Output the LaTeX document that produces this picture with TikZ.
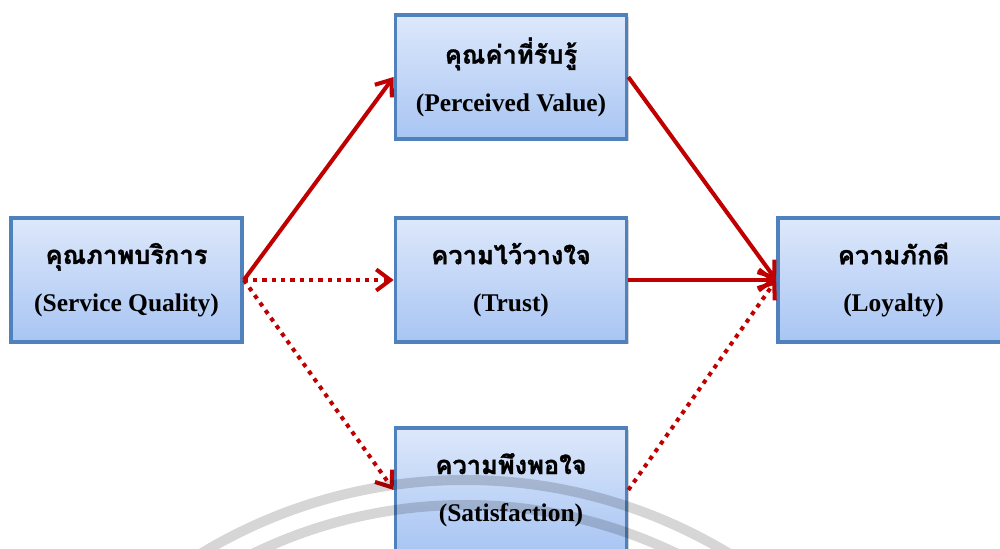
\documentclass[tikz,border=0pt]{standalone}
\usepackage{fontspec}
\setmainfont{Liberation Serif}
\newfontfamily\thaifont[Script=Thai,BoldFeatures={FakeBold=1.2}]{Loma}
\usepackage{tikz}
\usetikzlibrary{arrows.meta,positioning,shadows}
\definecolor{bordeazul}{HTML}{4F81BD}
\definecolor{cajaarriba}{HTML}{DDE8FB}
\definecolor{cajaabajo}{HTML}{A8C5F3}
\definecolor{rojo}{HTML}{C00000}
\begin{document}
\begin{tikzpicture}[node distance=2.0cm, on grid, auto]

    \useasboundingbox (0,0) rectangle (20,-10.98);
    \clip (0,0) rectangle (20,-10.98);

    % Estilos para las cajas y las flechas
    \tikzstyle{caja}=[rectangle, draw=bordeazul, line width=2.1pt, top color=cajaarriba, bottom color=cajaabajo,
        minimum width=4.62cm, minimum height=2.48cm, align=center, inner sep=2pt,
        font=\bfseries\fontsize{14.5}{27}\selectfont, text=black,
        drop shadow={opacity=0.35, shadow xshift=1.2pt, shadow yshift=-1.2pt}]
    \tikzstyle{flecha}=[draw=rojo, line width=2.3pt, -{Straight Barb[length=8pt, width=12pt]}]
    \tikzstyle{punteada}=[flecha, dash pattern=on 2.4pt off 2.9pt]

    % Definición de las cajas (nodos)
    \node[caja] (sq) at (2.53,-5.6) {{\thaifont คุณภาพบริการ}\\(Service Quality)};
    \node[caja] (tr) [right=7.69cm of sq] {{\thaifont ความไว้วางใจ}\\(Trust)};
    \node[caja] (pv) [above=4.06cm of tr] {{\thaifont คุณค่าที่รับรู้}\\(Perceived Value)};
    \node[caja] (sat) [below=4.2cm of tr] {{\thaifont ความพึงพอใจ}\\(Satisfaction)};
    \node[caja] (loy) [right=7.65cm of tr] {{\thaifont ความภักดี}\\(Loyalty)};

    % Definición de las flechas
    \path
        (sq.east) edge[flecha] (pv.west)
        (sq.east) edge[punteada] (tr.west)
        (sq.east) edge[punteada] (sat.west)
        (pv.east) edge[flecha] (loy.west)
        (tr.east) edge[flecha] (loy.west)
        (sat.east) edge[punteada] (loy.west);

    % Marca de agua
    \draw[black, opacity=0.16, line width=0.2cm] (9.3,-19.8) circle (10.2cm);
    \draw[black, opacity=0.16, line width=0.2cm] (9.3,-19.8) circle (9.7cm);
\end{tikzpicture}
\end{document}
